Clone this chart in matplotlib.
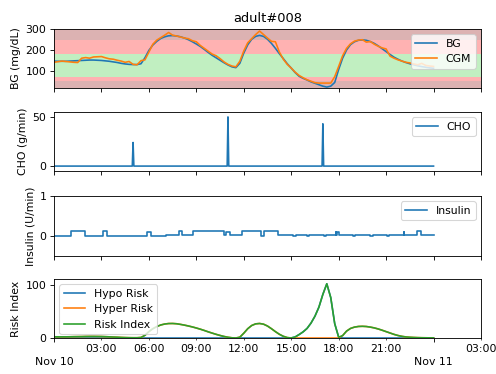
import numpy as np
import matplotlib
matplotlib.use("Agg")
import matplotlib.pyplot as plt
import matplotlib.dates as mdates
import matplotlib.ticker as mticker
from datetime import datetime, timedelta

# ---------------- data ----------------
title = "adult#008"
start = datetime(2018, 11, 10)
hours = np.arange(0, 24.001, 0.25)  # 15-minute sample grid

bg = [146, 145, 145, 145, 146, 147, 148, 149, 150, 151, 151, 150,
      149, 147, 145, 142, 139, 135, 132, 130, 129, 129, 133, 162,
      198, 224, 242, 256, 264, 269, 270, 268, 264, 258, 250, 240,
      229, 217, 203, 188, 174, 162, 150, 138, 127, 118, 114, 135,
      185, 225, 252, 266, 271, 266, 252, 232, 208, 182, 158, 133,
      112, 90, 72, 62, 54, 45, 38, 31, 24, 19.5, 24, 42,
      105, 160, 200, 226, 240, 247, 249, 247, 241, 232, 220, 206,
      192, 178, 165, 155, 146, 139, 133, 128, 123, 119, 116, 113, 111]

cgm = [140, 143, 146, 144, 142, 140, 139, 160, 163, 160, 166, 167,
       168, 162, 157, 155, 150, 146, 140, 144, 130, 128, 148, 152,
       190, 228, 248, 260, 272, 285, 272, 268, 263, 258, 255, 245,
       240, 222, 208, 194, 180, 172, 158, 142, 130, 122, 118, 145,
       195, 235, 255, 275, 292, 275, 258, 242, 240, 190, 155, 130,
       112, 92, 76, 65, 55, 48, 41, 39, 39, 39, 39, 70,
       120, 172, 208, 230, 243, 248, 250, 238, 241, 228, 218, 210,
       205, 170, 160, 152, 146, 140, 137, 132, 128, 135, 125, 122, 120]

risk = [2.3, 2.2, 2.2, 2.2, 2.3, 2.5, 2.6, 2.7, 2.9, 3.0, 3.0, 2.9,
        2.8, 2.5, 2.2, 1.8, 1.5, 1.1, 0.8, 0.6, 0.5, 0.5, 1.0, 5.0,
        12.0, 17.5, 21.5, 24.5, 26.3, 27.2, 27.3, 26.8, 25.6, 24.2, 22.6, 20.8,
        18.8, 16.6, 14.2, 11.6, 9.2, 6.9, 4.8, 2.9, 1.4, 0.4, 0.05, 1.5,
        9.0, 17.5, 23.5, 26.6, 27.3, 26.0, 22.5, 17.5, 12.0, 7.0, 3.2, 0.8,
        0.1, 2.0, 6.5, 11.5, 18.0, 28.0, 41.0, 58.0, 82.0, 102.0, 76.0, 27.0,
        1.5, 4.5, 13.0, 18.0, 20.5, 21.7, 22.0, 21.6, 20.5, 19.0, 17.0, 14.6,
        12.0, 9.4, 6.8, 4.7, 3.1, 2.0, 1.4, 1.0, 0.7, 0.5, 0.4, 0.3, 0.2]

meal_hours = [5.0, 11.0, 17.0]
meal_rates = [24, 50, 43]          # g/min over one 3-min sample
sample_h = 0.05

ins_hours = [0.0, 1.08, 1.93, 3.08, 3.35, 5.87, 6.15, 7.1, 7.88, 8.12, 8.82,
             10.72, 10.9, 11.1, 11.88, 13.12, 13.3, 14.18, 15.12, 15.3, 15.98,
             16.15, 17.05, 17.2, 17.8, 17.85, 17.92, 18.0, 18.9, 19.05, 20.0,
             20.15, 21.05, 21.2, 22.1, 22.15, 22.95, 23.2, 24.0]
ins_vals = [0.0, 0.12, 0.0, 0.12, 0.0, 0.11, 0.0, 0.02, 0.12, 0.02, 0.12,
            0.02, 0.11, 0.02, 0.12, 0.0, 0.12, 0.02, 0.0, 0.02, 0.0,
            0.02, 0.0, 0.02, 0.11, 0.02, 0.10, 0.02, 0.0, 0.02, 0.0,
            0.02, 0.0, 0.02, 0.10, 0.02, 0.12, 0.02, 0.02]

# ---------------- derived ----------------
bg = np.array(bg, float)
cgm = np.array(cgm, float)
risk = np.array(risk, float)
t = [start + timedelta(hours=float(h)) for h in hours]
hypo = np.where(bg < 112.5, risk, 0.0)
hyper = np.where(bg >= 112.5, risk, 0.0)

cho_h = [0.0]
cho_v = [0.0]
for mh, mr in zip(meal_hours, meal_rates):
    cho_h += [mh - sample_h, mh, mh + sample_h]
    cho_v += [0.0, mr, 0.0]
cho_h.append(24.0)
cho_v.append(0.0)
cho_t = [start + timedelta(hours=h) for h in cho_h]
ins_t = [start + timedelta(hours=h) for h in ins_hours]

# ---------------- figure ----------------
dpi = 78
fig = plt.figure(figsize=(497 / dpi, 374 / dpi), dpi=dpi)
W, H = 497, 374
left, right = 54, 481
rows = [(29, 87.5), (112, 171), (196, 256), (279, 338)]
axes = []
for top, bot in rows:
    axes.append(fig.add_axes([left / W, 1 - bot / H, (right - left) / W, (bot - top) / H]))

xlim = [start, start + timedelta(hours=27)]

ax = axes[0]
ax.axhspan(70, 180, alpha=0.3, color='limegreen', lw=0)
ax.axhspan(50, 70, alpha=0.3, color='red', lw=0)
ax.axhspan(0, 50, alpha=0.3, color='darkred', lw=0)
ax.axhspan(180, 250, alpha=0.3, color='red', lw=0)
ax.axhspan(250, 1000, alpha=0.3, color='darkred', lw=0)
ax.plot(t, bg, label='BG')
ax.plot(t, cgm, label='CGM')
ax.set_ylim(17.5, 302)
ax.set_yticks([100, 200, 300])
ax.set_ylabel('BG (mg/dL)')
ax.set_title(title)
ax.legend(loc='upper right')

ax = axes[1]
ax.plot(cho_t, cho_v, label='CHO')
ax.set_ylim(-5, 55)
ax.set_yticks([0, 50])
ax.set_ylabel('CHO (g/min)')
ax.legend(loc='upper right')

ax = axes[2]
ax.plot(ins_t, ins_vals, label='Insulin', drawstyle='steps-post')
ax.set_ylim(-0.5, 1)
ax.set_yticks([0, 1])
ax.set_ylabel('Insulin (U/min)')
ax.legend(loc='upper right')

ax = axes[3]
ax.plot(t, hypo, label='Hypo Risk')
ax.plot(t, hyper, label='Hyper Risk')
ax.plot(t, risk, label='Risk Index')
ax.set_ylim(0, 111)
ax.set_yticks([0, 100])
ax.set_ylabel('Risk Index')
ax.legend(loc='upper left')

for a in axes[:3]:
    a.set_xlim(xlim)
    a.xaxis.set_major_locator(mdates.HourLocator(interval=3))
    a.xaxis.set_major_formatter(mticker.NullFormatter())

ax = axes[3]
ax.set_xlim(xlim)
ax.xaxis.set_minor_locator(mdates.HourLocator(interval=3))
ax.xaxis.set_minor_formatter(mdates.DateFormatter('%H:%M\n'))
ax.xaxis.set_major_locator(mdates.DayLocator())
ax.xaxis.set_major_formatter(mdates.DateFormatter('\n%b %d'))

fig.savefig('out.png', dpi=dpi)
